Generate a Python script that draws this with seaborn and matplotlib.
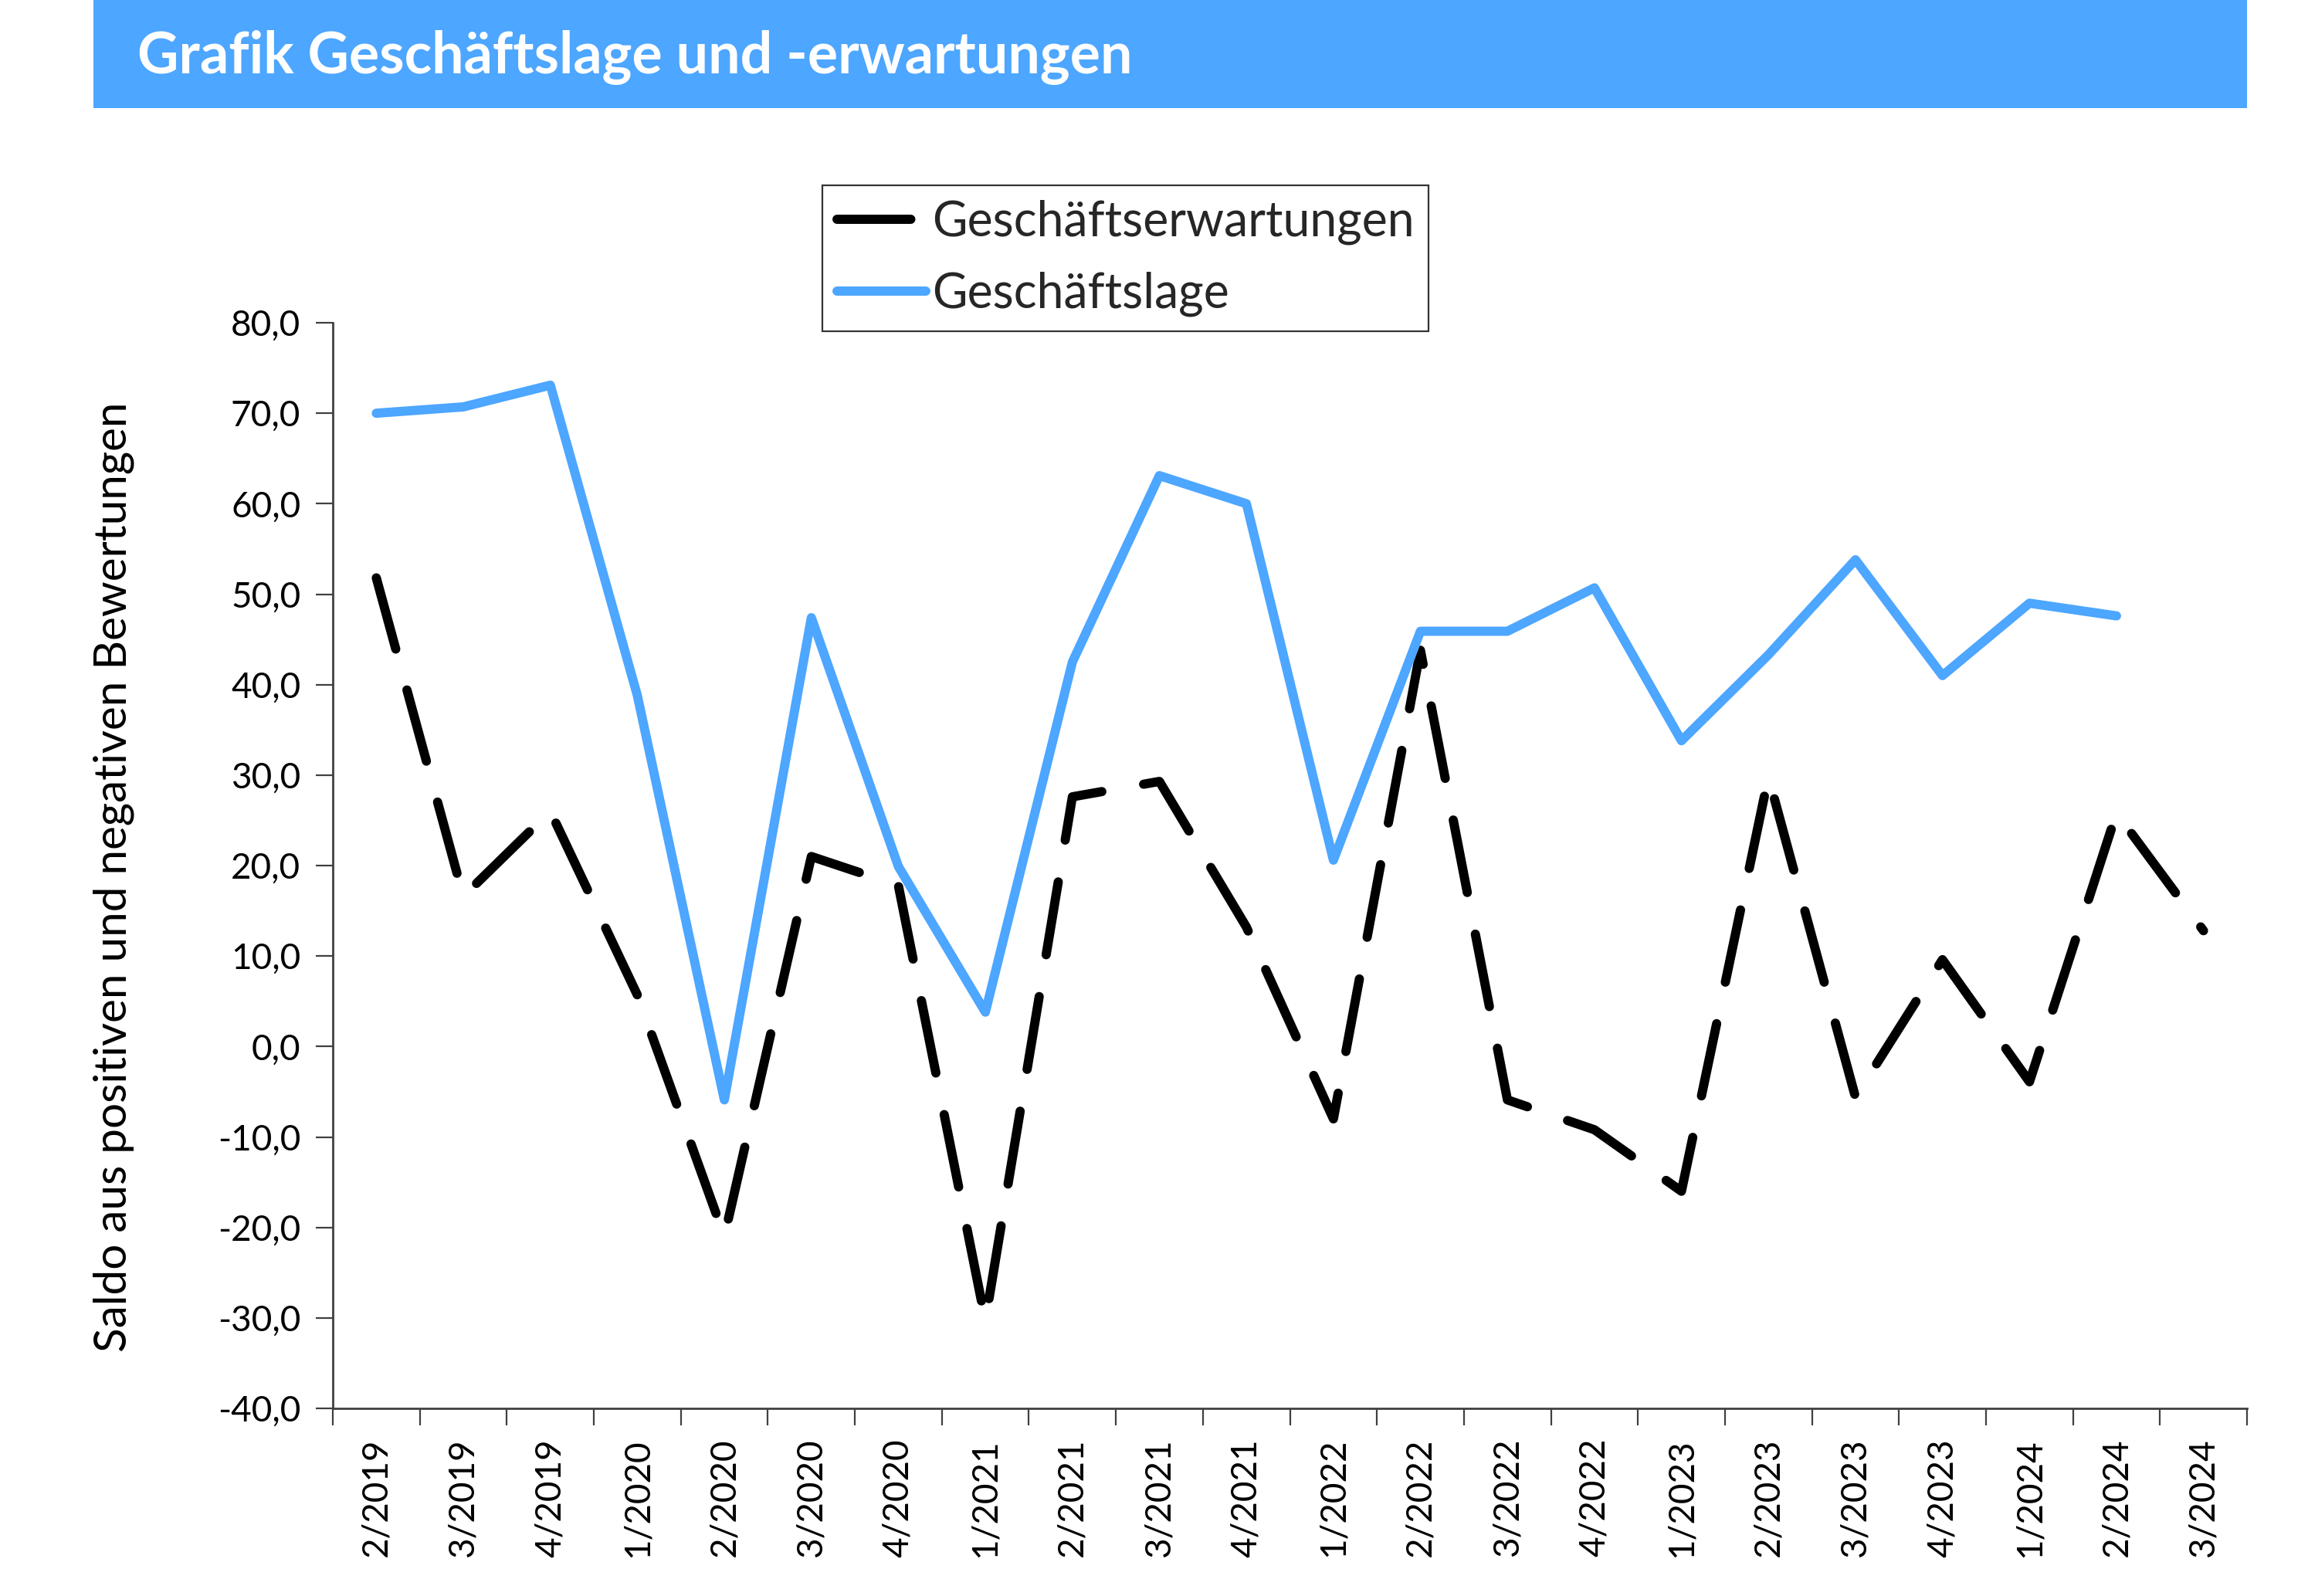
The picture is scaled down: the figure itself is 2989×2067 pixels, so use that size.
import matplotlib
matplotlib.use("Agg")
import matplotlib.pyplot as plt
import seaborn as sns
import pandas as pd
from matplotlib.ticker import FuncFormatter, FixedLocator
from matplotlib.patches import Rectangle

# ---------------- data ----------------
quartale = ["2/2019", "3/2019", "4/2019", "1/2020", "2/2020", "3/2020", "4/2020",
            "1/2021", "2/2021", "3/2021", "4/2021", "1/2022", "2/2022", "3/2022",
            "4/2022", "1/2023", "2/2023", "3/2023", "4/2023", "1/2024", "2/2024",
            "3/2024"]
erwartungen = [51.8, 16.6, 26.0, 5.7, -21.0, 21.0, 17.8, -30.3, 27.6, 29.3, 13.2,
               -8.0, 43.8, -5.9, -9.2, -16.0, 29.8, -5.6, 9.6, -3.9, 25.8, 12.8]
lage = [70.0, 70.7, 73.1, 38.8, -5.9, 47.4, 19.9, 3.8, 42.5, 63.1, 60.0,
        20.6, 45.9, 45.9, 50.7, 33.8, 43.3, 53.8, 41.0, 49.0, 47.6]
reihen = ["Geschäftserwartungen", "Geschäftslage"]
y_ticks = [-40, -30, -20, -10, 0, 10, 20, 30, 40, 50, 60, 70, 80]

title = "Grafik Geschäftslage und -erwartungen"
ylabel = "Saldo aus positiven und negativen Bewertungen"

# ---------------- frame ----------------
df = pd.concat([
    pd.DataFrame({"Quartal": quartale, "Wert": erwartungen, "Reihe": reihen[0]}),
    pd.DataFrame({"Quartal": quartale[:len(lage)], "Wert": lage, "Reihe": reihen[1]}),
], ignore_index=True)

sns.set_theme(style="white")
FONT = ["Lato", "DejaVu Sans"]
plt.rcParams["font.family"] = FONT

BLUE = "#4da6ff"
W, H, DPI = 2989, 2067, 200
fig = plt.figure(figsize=(W / DPI, H / DPI), dpi=DPI)

# title bar
fig.patches.append(Rectangle((121 / W, 1 - 140 / H), (2910 - 121) / W, 140 / H,
                             transform=fig.transFigure, facecolor=BLUE,
                             edgecolor="none", zorder=0))
fig.text(178 / W, 1 - 74 / H, title, color="white", fontsize=26.5,
         fontweight="bold", ha="left", va="center")

ax = fig.add_axes([431 / W, 1 - 1824 / H, (2910 - 431) / W, (1824 - 418) / H])

sns.lineplot(data=df, x="Quartal", y="Wert", hue="Reihe", style="Reihe",
             palette={reihen[0]: "black", reihen[1]: BLUE},
             dashes={reihen[0]: (8, 4.6), reihen[1]: ""},
             linewidth=4.3, sort=False, estimator=None, legend=False, ax=ax)

for ln in ax.lines:
    ln.set_solid_capstyle("round")
    ln.set_dash_capstyle("round")
    ln.set_solid_joinstyle("round")
    ln.set_dash_joinstyle("round")

n = len(quartale)
ax.set_xlim(-0.5, n - 0.5)
ax.set_ylim(-40, 80)
ax.set_yticks(y_ticks)
ax.yaxis.set_major_formatter(FuncFormatter(lambda v, p: f"{v:.1f}".replace(".", ",")))
ax.set_xticks(range(n))
ax.set_xticklabels(quartale, rotation=90)
ax.xaxis.set_minor_locator(FixedLocator([i - 0.5 for i in range(n + 1)]))
ax.tick_params(axis="x", which="major", length=0, pad=14, labelsize=16.5, colors="black")
ax.tick_params(axis="x", which="minor", length=8, width=0.8, color="#404040", direction="out", bottom=True)
ax.tick_params(axis="y", which="major", length=8, width=0.8, color="#404040",
               direction="out", left=True, pad=7, labelsize=16.5, labelcolor="black")
ax.set_xlabel("")
ax.set_ylabel("")
for s in ["top", "right"]:
    ax.spines[s].set_visible(False)
for s in ["left", "bottom"]:
    ax.spines[s].set_color("#404040")
    ax.spines[s].set_linewidth(1.0)
ax.grid(False)

fig.text(147 / W, 1 - 1136 / H, ylabel, rotation=90, ha="center", va="center",
         fontsize=21, color="black")

leg = ax.legend(ax.lines[:2], reihen, loc="upper left",
                bbox_to_anchor=(1065 / W, 1 - 240 / H), bbox_transform=fig.transFigure,
                fontsize=22.5, frameon=True, fancybox=False, handlelength=1.85,
                handletextpad=0.12, borderpad=0.3, labelspacing=0.55,
                borderaxespad=0)
leg.get_frame().set_edgecolor("black")
leg.get_frame().set_linewidth(0.8)

fig.savefig("out.png", dpi=DPI)
